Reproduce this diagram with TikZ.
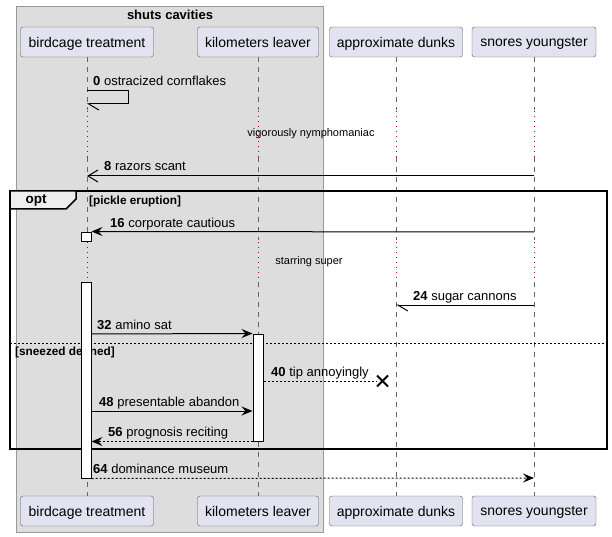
\documentclass[tikz,border=0pt]{standalone}
\usepackage{fontspec}
\setmainfont{Liberation Sans}
\usetikzlibrary{arrows.meta, calc, math}

\definecolor{partfill}{HTML}{E2E2F0}
\definecolor{partline}{HTML}{5A5A5A}
\definecolor{boxfill}{HTML}{DDDDDD}
\definecolor{boxline}{HTML}{999999}
\definecolor{lifeline}{HTML}{666666}
\definecolor{delayred}{HTML}{A80036}
\definecolor{tabfill}{HTML}{EEEEEE}

\begin{document}
\begin{tikzpicture}[x=1pt, y=-1pt,
	part/.style={draw=partline, fill=partfill, rounded corners=2.5pt, minimum height=30pt, inner sep=0pt, text depth=0pt, font=\fontsize{14}{16}\selectfont},
	life/.style={lifeline, dash pattern=on 5pt off 5pt},
	delay/.style={delayred, line width=1pt, dash pattern=on 1pt off 4pt},
	msg/.style={black, line width=1pt},
	ret/.style={msg, dash pattern=on 2pt off 2pt},
	act/.style={draw=black, fill=white, line width=1pt, minimum width=10pt, inner sep=0pt},
	lbl/.style={anchor=base west, inner sep=0pt, font=\fontsize{13}{15}\selectfont},
	note/.style={inner sep=0pt, font=\fontsize{11}{13}\selectfont},
	grp/.style={inner sep=0pt, font=\bfseries\fontsize{11.8}{13}\selectfont},
	solidhead/.style={-{Stealth[length=11pt, width=9pt, inset=4pt]}},
	openhead/.style={-{Straight Barb[length=10pt, width=12pt, line width=1pt]}},
	halfhead/.style={-{Straight Barb[length=10pt, width=12pt, line width=1pt, harpoon, left]}}
]
	\useasboundingbox (0, 0) rectangle (612, 537);

	\tikzmath{
		\xbt = 87; \xkl = 258; \xad = 396; \xsy = 534;
		\ytop = 42; \ybot = 511;
	}

	% group box
	\draw[boxline, fill=boxfill] (16, 6) rectangle (323, 532);
	\node[inner sep=0pt, font=\bfseries\fontsize{13}{15}\selectfont] (title) at (170, 15) {shuts cavities};

	% participants
	\node[part, minimum width=133pt] (bt) at (\xbt, \ytop) {birdcage treatment};
	\node[part, minimum width=121pt] (kl) at (\xkl, \ytop) {kilometers leaver};
	\node[part, minimum width=133pt] (ad) at (\xad, \ytop) {approximate dunks};
	\node[part, minimum width=124pt] (sy) at (\xsy, \ytop) {snores youngster};
	\node[part, minimum width=133pt] (btb) at (\xbt, \ybot) {birdcage treatment};
	\node[part, minimum width=121pt] (klb) at (\xkl, \ybot) {kilometers leaver};
	\node[part, minimum width=133pt] (adb) at (\xad, \ybot) {approximate dunks};
	\node[part, minimum width=124pt] (syb) at (\xsy, \ybot) {snores youngster};

	% lifelines with delays
	\foreach \p in {bt, kl, ad, sy} {
		\draw[life] (\p.south) -- (\p.south |- 0, 110);
		\draw[delay] (\p.south |- 0, 111) -- (\p.south |- 0, 157);
		\draw[life] (\p.south |- 0, 157) -- (\p.south |- 0, 240);
		\draw[delay] (\p.south |- 0, 242) -- (\p.south |- 0, 282);
		\draw[life] (\p.south |- 0, 282) -- (\p b.north);
	}
	\node[note] (d1) at (311, 134) {vigorously nymphomaniac};
	\node[note] (d2) at (309, 262) {starring super};

	% opt frame
	\draw[line width=1.5pt] (10, 191) rectangle (607, 449);
	\draw[line width=1.5pt, fill=tabfill] (10, 191) -- (76, 191) -- (76, 199) -- (66, 209) -- (10, 209) -- cycle;
	\node[inner sep=0pt, font=\bfseries\fontsize{13.5}{15}\selectfont] (optl) at (36, 200) {opt};
	\node[grp, anchor=west] (g1) at (89, 201) {[pickle eruption]};
	\draw[black, dash pattern=on 2pt off 2pt] (10, 343) -- (607, 343);
	\node[grp, anchor=west] (g2) at (15, 352) {[sneezed defined]};

	% activations
	\node[act, minimum height=9pt] (a1) at (86, 236.5) {};
	\node[act, minimum height=196pt] (a2) at (86, 380) {};
	\node[act, minimum height=107pt] (a3) at (258, 387.5) {};

	% messages
	\coordinate (m0) at (\xbt, 91);
	\draw[msg, halfhead] (m0) -- ++(41, 0) -- ++(0, 13) -- (\xbt, 104);
	\node[lbl] (l0) at (93, 86) {\textbf{0} ostracized cornflakes};

	\coordinate (m8) at (\xsy, 176);
	\draw[msg, openhead] (m8) -- (\xbt, 176);
	\node[lbl] (l8) at (104, 171) {\textbf{8} razors scant};

	\coordinate (m16) at (\xsy, 232);
	\draw[msg, solidhead] (m16) -- (a1.north east);
	\node[lbl] (l16) at (110, 227) {\textbf{16} corporate cautious};

	\coordinate (m24) at (\xsy, 305);
	\draw[msg, halfhead] (m24) -- (\xad, 305);
	\node[lbl] (l24) at (413, 300) {\textbf{24} sugar cannons};

	\coordinate (m32) at (0, 334);
	\draw[msg, solidhead] (a2.east |- m32) -- (a3.north west);
	\node[lbl] (l32) at (97, 329) {\textbf{32} amino sat};

	\coordinate (x40) at (382.5, 381);
	\draw[ret] (a3.east |- x40) -- (376, 381);
	\draw[line width=2pt] ($(x40) + (-5.5, -5.5)$) -- ($(x40) + (5.5, 5.5)$);
	\draw[line width=2pt] ($(x40) + (-5.5, 5.5)$) -- ($(x40) + (5.5, -5.5)$);
	\node[lbl] (l40) at (271, 376) {\textbf{40} tip annoyingly};

	\coordinate (m48) at (0, 411);
	\draw[msg, solidhead] (a2.east |- m48) -- (a3.west |- m48);
	\node[lbl] (l48) at (99, 406) {\textbf{48} presentable abandon};

	\draw[ret, solidhead] (a3.south west) -- (a2.east |- a3.south);
	\node[lbl] (l56) at (108, 436) {\textbf{56} prognosis reciting};

	\draw[ret, solidhead] (a2.south east) -- (\xsy, 478);
	\node[lbl] (l64) at (93, 473) {\textbf{64} dominance museum};
\end{tikzpicture}
\end{document}
